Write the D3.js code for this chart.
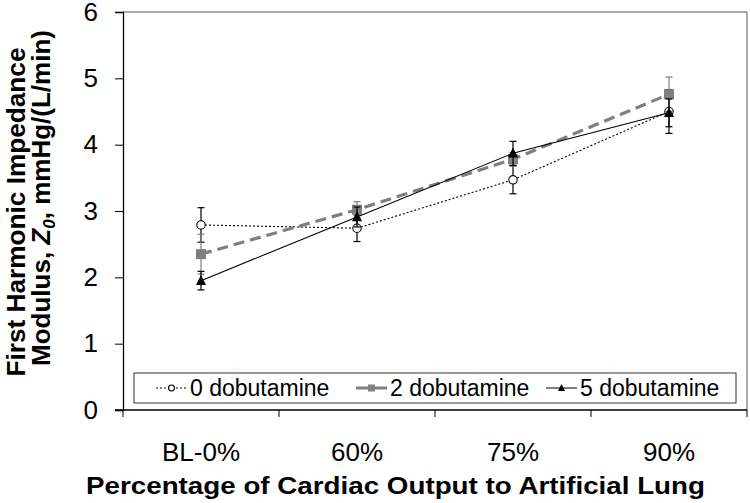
<!DOCTYPE html>
<html>
<head>
<meta charset="utf-8">
<script src="https://cdn.jsdelivr.net/npm/d3@7/dist/d3.min.js"></script>
<style>
  html, body { margin: 0; padding: 0; background: #fff; }
  svg { display: block; font-family: "Liberation Sans", Arial, sans-serif; }
</style>
</head>
<body>
<svg id="chart" width="750" height="503"></svg>
<script>
// ---- data ----
const categories = ["BL-0%", "60%", "75%", "90%"];
const seriesNames = ["0 dobutamine", "2 dobutamine", "5 dobutamine"];
const dob0 = [2.79, 2.74, 3.47, 4.50];
const dob0Err = [0.26, 0.20, 0.21, 0.33];
const dob2 = [2.35, 3.02, 3.78, 4.76];
const dob2Err = [0.30, 0.12, 0.10, 0.26];
const dob5 = [1.95, 2.91, 3.87, 4.48];
const dob5Err = [0.14, 0.15, 0.18, 0.21];
const yTicks = [0, 1, 2, 3, 4, 5, 6];

const svg = d3.select("#chart");
const L = 123, R = 747, T = 12, B = 410;

const x = d3.scaleBand().domain(categories).range([L, R]);
const y = d3.scaleLinear().domain([0, 6]).range([B, T]);

// plot area border (top/right)
svg.append("path")
  .attr("d", `M${L},${T}H${R}V${B}`)
  .attr("fill", "none").attr("stroke", "#555").attr("stroke-width", 1);

// y axis
const yAxis = svg.append("g").attr("transform", `translate(${L},0)`)
  .call(d3.axisLeft(y).tickValues(yTicks).tickSize(8).tickPadding(17).tickFormat(d3.format("d")));
yAxis.select(".domain").attr("stroke", "#000").attr("stroke-width", 1.3);
yAxis.selectAll(".tick line").attr("stroke", "#000");
yAxis.selectAll(".tick text").attr("font-size", 26).attr("fill", "#000")
  .attr("font-family", "Liberation Sans, Arial, sans-serif");

// x axis
const xg = svg.append("g");
xg.append("line").attr("x1", L - 8).attr("x2", R).attr("y1", B).attr("y2", B)
  .attr("stroke", "#000").attr("stroke-width", 1.3);
const bounds = categories.map(c => x(c)).concat([x.range()[1]]);
xg.selectAll("line.xt").data(bounds).enter().append("line")
  .attr("class", "xt")
  .attr("x1", d => d).attr("x2", d => d).attr("y1", B).attr("y2", B + 7)
  .attr("stroke", "#000");
xg.selectAll("text.xl").data(categories).enter().append("text")
  .attr("class", "xl")
  .attr("x", d => x(d) + x.bandwidth() / 2).attr("y", 461)
  .attr("text-anchor", "middle").attr("font-size", 26).attr("fill", "#000")
  .text(d => d);

// axis titles
svg.append("text")
  .attr("x", 395.5).attr("y", 494)
  .attr("text-anchor", "middle").attr("font-size", 24).attr("font-weight", "bold")
  .attr("textLength", 619).attr("lengthAdjust", "spacingAndGlyphs")
  .text("Percentage of Cardiac Output to Artificial Lung");

const yt1 = svg.append("text")
  .attr("transform", "translate(25,212) rotate(-90)")
  .attr("text-anchor", "middle").attr("font-size", 26).attr("font-weight", "bold")
  .attr("textLength", 329).attr("lengthAdjust", "spacingAndGlyphs")
  .text("First Harmonic Impedance");

const yt2 = svg.append("text")
  .attr("transform", "translate(50,198) rotate(-90)")
  .attr("text-anchor", "middle").attr("font-size", 26).attr("font-weight", "bold");
yt2.append("tspan").text("Modulus, ");
yt2.append("tspan").attr("font-style", "italic").text("Z");
yt2.append("tspan").attr("font-style", "italic").attr("font-size", 17).attr("dy", 5).text("0");
yt2.append("tspan").attr("dy", -5).text(", mmHg/(L/min)");

// series
const series = [
  { name: seriesNames[0], vals: dob0, err: dob0Err, color: "#000", lineColor: "#000", width: 1.1, dash: "2,2", marker: "circle" },
  { name: seriesNames[1], vals: dob2, err: dob2Err, color: "#808080", lineColor: "#7f7f7f", width: 3.2, dash: "11,6", marker: "square" },
  { name: seriesNames[2], vals: dob5, err: dob5Err, color: "#000", lineColor: "#000", width: 1.1, dash: null, marker: "triangle" }
];

const cx = c => x(c) + x.bandwidth() / 2;
const line = d3.line().x(d => cx(d.c)).y(d => y(d.v));

function drawMarker(g, type, px, py, size, s) {
  if (type === "circle") {
    g.append("circle").attr("cx", px).attr("cy", py).attr("r", size * 0.42)
      .attr("fill", "#fff").attr("stroke", "#000").attr("stroke-width", 1.1);
  } else if (type === "square") {
    g.append("rect").attr("x", px - size / 2).attr("y", py - size / 2)
      .attr("width", size).attr("height", size).attr("fill", s.color);
  } else {
    const h = size * 0.95;
    g.append("path")
      .attr("d", `M${px},${py - h * 0.6}L${px + size / 2},${py + h * 0.45}L${px - size / 2},${py + h * 0.45}Z`)
      .attr("fill", "#000");
  }
}

series.forEach(s => {
  const pts = categories.map((c, i) => ({ c, v: s.vals[i], e: s.err[i] }));
  const g = svg.append("g");
  g.append("path").datum(pts).attr("d", line)
    .attr("fill", "none").attr("stroke", s.lineColor).attr("stroke-width", s.width)
    .attr("stroke-dasharray", s.dash);
  const eg = g.append("g").attr("stroke", s.color).attr("stroke-width", 1.2);
  pts.forEach(p => {
    const px = cx(p.c);
    eg.append("line").attr("x1", px).attr("x2", px).attr("y1", y(p.v - p.e)).attr("y2", y(p.v + p.e));
    [p.v - p.e, p.v + p.e].forEach(v => {
      eg.append("line").attr("x1", px - 3.5).attr("x2", px + 3.5).attr("y1", y(v)).attr("y2", y(v));
    });
  });
  pts.forEach(p => drawMarker(g, s.marker, cx(p.c), y(p.v), 10, s));
});

// legend
const lg = svg.append("g");
lg.append("rect").attr("x", 134).attr("y", 373).attr("width", 602).attr("height", 30)
  .attr("fill", "#fff").attr("stroke", "#333").attr("stroke-width", 1);
const legX = [156, 356, 546];
series.forEach((s, i) => {
  const x0 = legX[i], ly = 388;
  lg.append("line").attr("x1", x0).attr("x2", x0 + 31).attr("y1", ly).attr("y2", ly)
    .attr("stroke", s.lineColor).attr("stroke-width", s.marker === "square" ? 3 : 1)
    .attr("stroke-dasharray", s.marker === "circle" ? "2,2" : null);
  drawMarker(lg, s.marker, x0 + 15.5, ly, 7, s);
  lg.append("text").attr("x", x0 + 34).attr("y", 396)
    .attr("font-size", 23).attr("fill", "#000").text(s.name);
});
</script>
</body>
</html>
